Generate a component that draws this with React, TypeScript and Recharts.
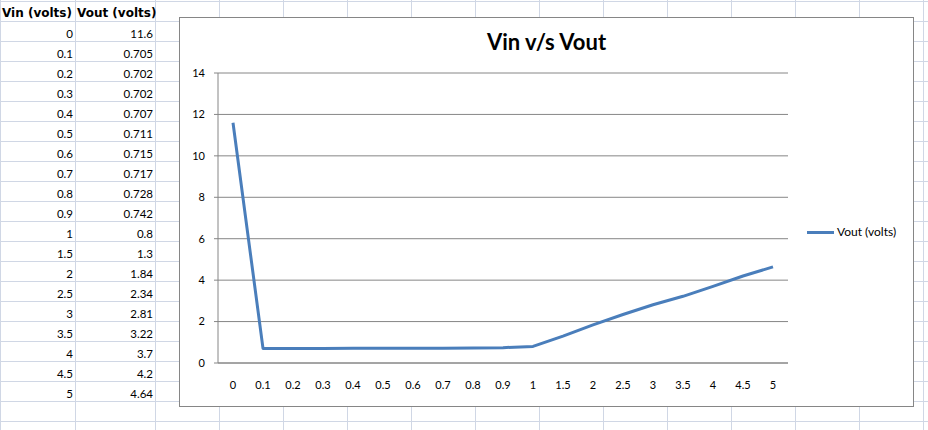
import React from "react";
import { LineChart, Line, XAxis, YAxis, CartesianGrid } from "recharts";

// ── Data ─────────────────────────────────────────────────────────────────────

const vin = [
  "0", "0.1", "0.2", "0.3", "0.4", "0.5", "0.6", "0.7", "0.8", "0.9",
  "1", "1.5", "2", "2.5", "3", "3.5", "4", "4.5", "5",
];
const vout = [
  11.6, 0.705, 0.702, 0.702, 0.707, 0.711, 0.715, 0.717, 0.728, 0.742,
  0.8, 1.3, 1.84, 2.34, 2.81, 3.22, 3.7, 4.2, 4.64,
];
const voutLabels = [
  "11.6", "0.705", "0.702", "0.702", "0.707", "0.711", "0.715", "0.717", "0.728", "0.742",
  "0.8", "1.3", "1.84", "2.34", "2.81", "3.22", "3.7", "4.2", "4.64",
];
const yTicks = [0, 2, 4, 6, 8, 10, 12, 14];

const title = "Vin v/s Vout";
const headers = ["Vin (volts)", "Vout (volts)"];
const seriesName = "Vout (volts)";

const rows = vin.map((v, i) => ({ vin: v, vout: vout[i] }));
// boundaries between categories, used only for the tick marks
const frameTicks = [...vin.map((_, i) => i), vin.length];

// ── Sheet layout ─────────────────────────────────────────────────────────────

const GRID = "#D0D7E5";
const AXIS = "#868686";
const BLUE = "#4A7EBB";
const colEdges = [0, 75, 155, ...Array.from({ length: 12 }, (_, k) => 155 + 64 * (k + 1))];
const rowEdges = Array.from({ length: 22 }, (_, k) => 1 + 20 * k);

const numFont = '"Liberation Sans Narrow", Lato, sans-serif';

function SheetGrid() {
  return (
    <svg width={928} height={430} style={{ position: "absolute", left: 0, top: 0 }} shapeRendering="crispEdges">
      {colEdges.map((x) => (
        <line key={`c${x}`} x1={x + 0.5} x2={x + 0.5} y1={0} y2={430} stroke={GRID} />
      ))}
      {rowEdges.map((y) => (
        <line key={`r${y}`} x1={0} x2={928} y1={y + 0.5} y2={y + 0.5} stroke={GRID} />
      ))}
    </svg>
  );
}

function Cell({ col, row, text, bold }: { col: number; row: number; text: string; bold?: boolean }) {
  const left = colEdges[col] + 1;
  const width = colEdges[col + 1] - colEdges[col] - 1;
  return (
    <div
      style={{
        position: "absolute",
        left,
        top: rowEdges[row] + 1,
        width,
        height: 19,
        display: "flex",
        alignItems: "flex-end",
        justifyContent: bold ? "flex-start" : "flex-end",
        paddingRight: bold ? 0 : 2,
        paddingLeft: bold ? 1 : 0,
        paddingBottom: 1,
        boxSizing: "border-box",
        fontFamily: bold ? '"DejaVu Sans", sans-serif' : numFont,
        fontWeight: bold ? 700 : 400,
        fontSize: bold ? 12 : 11.5,
        lineHeight: "13px",
        color: "#000",
        whiteSpace: "nowrap",
      }}
    >
      {text}
    </div>
  );
}

// ── App ──────────────────────────────────────────────────────────────────────

export default function App() {
  const tickStyle = { fontSize: 11, fill: "#000", fontFamily: "Lato" };

  return (
    <div style={{ position: "relative", width: 928, height: 430, overflow: "hidden", background: "#fff" }}>
      <style>{`body{margin:0}`}</style>
      <SheetGrid />

      <Cell col={0} row={0} text={headers[0]} bold />
      <Cell col={1} row={0} text={headers[1]} bold />
      {vin.map((v, i) => (
        <React.Fragment key={v}>
          <Cell col={0} row={i + 1} text={v} />
          <Cell col={1} row={i + 1} text={voutLabels[i]} />
        </React.Fragment>
      ))}

      {/* Chart object */}
      <div
        style={{
          position: "absolute",
          left: 179,
          top: 17,
          width: 735,
          height: 390,
          border: `1px solid ${AXIS}`,
          boxSizing: "border-box",
          background: "#fff",
          fontFamily: "Lato, sans-serif",
        }}
      >
        <div
          style={{
            position: "absolute",
            left: 0,
            top: 11,
            width: "100%",
            textAlign: "center",
            fontSize: 22,
            fontWeight: 700,
            lineHeight: "26px",
            color: "#000",
          }}
        >
          {title}
        </div>

        <LineChart width={733} height={388} data={rows} margin={{ top: 55, right: 125, bottom: 0, left: 0 }}>
          <CartesianGrid vertical={false} stroke={AXIS} />
          <XAxis
            type="number"
            domain={[0, vin.length]}
            ticks={frameTicks}
            allowDataOverflow
            interval={0}
            tick={false}
            tickSize={4}
            height={5}
            stroke={AXIS}
          />
          <XAxis
            xAxisId="cat"
            dataKey="vin"
            type="category"
            interval={0}
            axisLine={false}
            tickLine={false}
            tickSize={6}
            tickMargin={7}
            height={38}
            padding={{ left: 15, right: 15 }}
            tick={tickStyle}
          />
          <YAxis
            domain={[0, 14]}
            ticks={yTicks}
            interval={0}
            width={38}
            tickSize={4}
            tickMargin={9}
            stroke={AXIS}
            tick={tickStyle}
          />
          <Line
            xAxisId="cat"
            type="linear"
            dataKey="vout"
            name={seriesName}
            stroke={BLUE}
            strokeWidth={3}
            strokeLinejoin="round"
            dot={false}
            activeDot={false}
            isAnimationActive={false}
          />
        </LineChart>

        {/* Legend */}
        <div style={{ position: "absolute", left: 627, top: 206, height: 16, display: "flex", alignItems: "center" }}>
          <div style={{ width: 27, height: 3, background: BLUE, marginRight: 3 }} />
          <span style={{ fontSize: 12, lineHeight: "16px", color: "#000", whiteSpace: "nowrap" }}>{seriesName}</span>
        </div>
      </div>
    </div>
  );
}
